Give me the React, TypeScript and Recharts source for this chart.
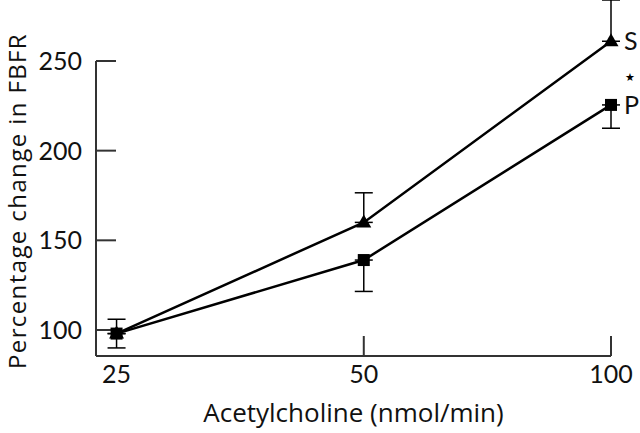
import {
  ErrorBar,
  Label,
  Line,
  LineChart,
  ReferenceDot,
  ReferenceLine,
  XAxis,
  YAxis,
} from "recharts";

// acetylcholine dose (nmol/min)
const doses = [25, 50, 100];
// S: triangles
const sValues = [98, 160, 261];
const sErrors: Array<[number, number]> = [[0, 0], [0, 16.5], [0, 23]];
// P: squares
const pValues = [98, 139, 225.5];
const pErrors: Array<[number, number]> = [[8, 8], [17.5, 0], [13, 0]];

const yTicks = [100, 150, 200, 250];
const xTicks = [25, 50, 100];
const starLevel = 241;

const FONT = "Lato, 'Open Sans', sans-serif";
const TITLE_FONT = "'Open Sans', Lato, sans-serif";
const AXIS = "#333";

const rows = doses.map((dose, i) => ({
  dose,
  s: sValues[i],
  sErr: sErrors[i],
  p: pValues[i],
  pErr: pErrors[i],
}));

function SquareDot({ cx, cy }: any) {
  if (cx == null || cy == null) return null;
  return <rect x={cx - 6} y={cy - 6} width={12} height={12} fill="#000" />;
}

function TriangleDot({ cx, cy }: any) {
  if (cx == null || cy == null) return null;
  return <polygon points={`${cx},${cy - 8} ${cx - 7.5},${cy + 5} ${cx + 7.5},${cy + 5}`} fill="#000" />;
}

function endLabel(text: string) {
  return ({ x, y, index }: any) => {
    if (index !== doses.length - 1) return null;
    return (
      <text x={x + 13} y={y} dy="0.36em" fontSize={25} fontFamily={FONT} fill="#111">
        {text}
      </text>
    );
  };
}

function XTick({ x, y, payload }: any) {
  return (
    <g>
      {payload.value !== xTicks[0] ? (
        <line x1={x} y1={y - 9} x2={x} y2={y - 29} stroke={AXIS} strokeWidth={2} />
      ) : null}
      <text x={x} y={y} dy="0.71em" textAnchor="middle" fontSize={25} fontFamily={FONT} fill="#111">
        {payload.value}
      </text>
    </g>
  );
}

function YTitle({ viewBox }: any) {
  const cx = viewBox.x + 16;
  const cy = viewBox.y + viewBox.height / 2 + 23;
  return (
    <text
      x={cx}
      y={cy}
      transform={`rotate(-90, ${cx}, ${cy})`}
      textAnchor="middle"
      dominantBaseline="central"
      fontSize={24}
      fontFamily={TITLE_FONT}
      letterSpacing={1.4}
      fill="#111"
    >
      Percentage change in FBFR
    </text>
  );
}

export default function App() {
  return (
    <div style={{ position: "absolute", left: 0, top: 0, width: 640, height: 433, background: "#fff" }}>
      <LineChart width={640} height={433} data={rows} margin={{ top: 0, right: 29, bottom: 0, left: 0 }}>
        <XAxis
          dataKey="dose"
          type="number"
          scale="log"
          domain={[23.6, 100]}
          ticks={xTicks}
          height={77}
          axisLine={{ stroke: AXIS, strokeWidth: 2 }}
          tickLine={false}
          tickSize={-20}
          tickMargin={29}
          tick={<XTick />}
        >
          <Label
            value="Acetylcholine (nmol/min)"
            position="insideBottom"
            offset={11}
            fontSize={26}
            fontFamily={TITLE_FONT}
            fill="#111"
          />
        </XAxis>
        <YAxis
          type="number"
          domain={[85.5, 284]}
          ticks={yTicks}
          width={96}
          axisLine={false}
          tickLine={{ stroke: AXIS, strokeWidth: 2 }}
          tickSize={-20}
          tickMargin={34}
          tick={{ fontSize: 25, fontFamily: FONT, fill: "#111" }}
        >
          <Label content={<YTitle />} />
        </YAxis>
        <ReferenceLine
          segment={[
            { x: 23.6, y: 85.5 },
            { x: 23.6, y: 250 },
          ]}
          stroke={AXIS}
          strokeWidth={2}
          ifOverflow="visible"
        />
        <Line
          dataKey="s"
          stroke="#000"
          strokeWidth={2.5}
          dot={<TriangleDot />}
          activeDot={false}
          label={endLabel("S")}
          isAnimationActive={false}
        >
          <ErrorBar dataKey="sErr" direction="y" width={9} stroke="#000" strokeWidth={1.5} />
        </Line>
        <Line
          dataKey="p"
          stroke="#000"
          strokeWidth={2.5}
          dot={<SquareDot />}
          activeDot={false}
          label={endLabel("P")}
          isAnimationActive={false}
        >
          <ErrorBar dataKey="pErr" direction="y" width={9} stroke="#000" strokeWidth={1.5} />
        </Line>
        <ReferenceDot
          x={100}
          y={starLevel}
          r={0}
          ifOverflow="visible"
          label={({ viewBox }: any) => (
            <text x={viewBox.x + 19} y={viewBox.y} dy="0.36em" textAnchor="middle" fontSize={11} fill="#000">
              ★
            </text>
          )}
        />
      </LineChart>
    </div>
  );
}
